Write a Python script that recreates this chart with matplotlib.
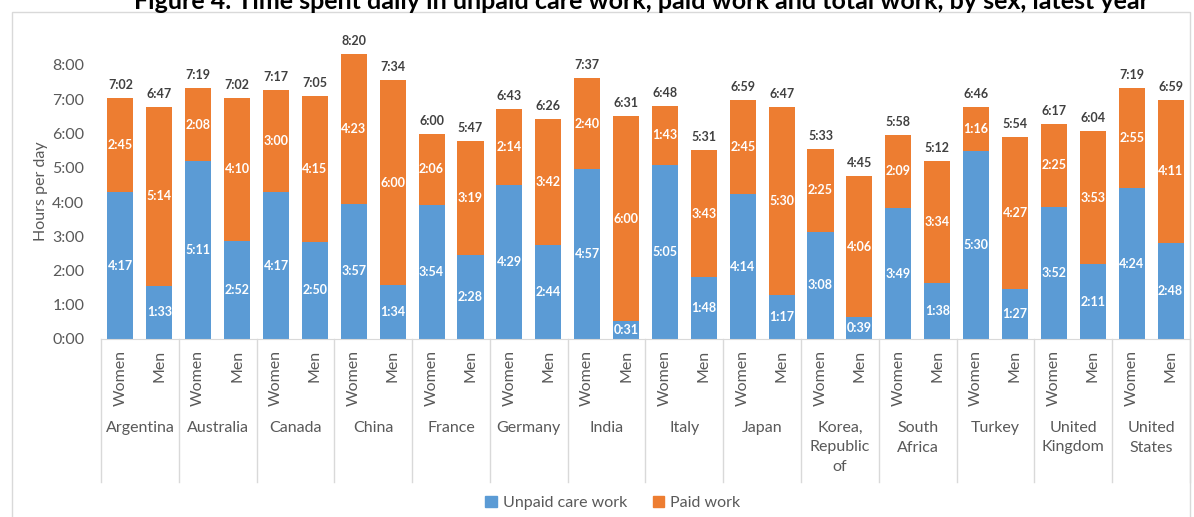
import matplotlib
matplotlib.use('Agg')
import matplotlib.pyplot as plt
from matplotlib.patches import Rectangle, Patch
from matplotlib.lines import Line2D
import numpy as np

# Datos (horas:minutos)
countries = ["Argentina", "Australia", "Canada", "China", "France", "Germany", "India",
             "Italy", "Japan", "Korea,\nRepublic\nof", "South\nAfrica", "Turkey",
             "United\nKingdom", "United\nStates"]
sexes = ["Women", "Men"]

unpaid_women = ["4:17", "5:11", "4:17", "3:57", "3:54", "4:29", "4:57",
                "5:05", "4:14", "3:08", "3:49", "5:30", "3:52", "4:24"]
paid_women = ["2:45", "2:08", "3:00", "4:23", "2:06", "2:14", "2:40",
              "1:43", "2:45", "2:25", "2:09", "1:16", "2:25", "2:55"]
unpaid_men = ["1:33", "2:52", "2:50", "1:34", "2:28", "2:44", "0:31",
              "1:48", "1:17", "0:39", "1:38", "1:27", "2:11", "2:48"]
paid_men = ["5:14", "4:10", "4:15", "6:00", "3:19", "3:42", "6:00",
            "3:43", "5:30", "4:06", "3:34", "4:27", "3:53", "4:11"]

BLUE = "#5B9BD5"
ORANGE = "#ED7D31"
GRAY = "#595959"
FONT = "Lato"


def to_min(s):
    h, m = s.split(":")
    return int(h) * 60 + int(m)


def fmt(mins):
    return f"{mins // 60}:{mins % 60:02d}"


# Intercalar mujeres y hombres por pais
unpaid = []
paid = []
for i in range(len(countries)):
    unpaid += [to_min(unpaid_women[i]), to_min(unpaid_men[i])]
    paid += [to_min(paid_women[i]), to_min(paid_men[i])]
unpaid = np.array(unpaid)
paid = np.array(paid)
total = unpaid + paid

W, H = 1194, 517
fig = plt.figure(figsize=(W / 100, H / 100), dpi=100)

# Marco gris del grafico
fig.patches.append(Rectangle((12 / W, -0.1), 1178 / W, 1.1 - 12 / H, transform=fig.transFigure,
                             fill=False, edgecolor="#D9D9D9", linewidth=1))

# Titulo (recortado arriba como en la imagen original)
fig.text(0.537, 1 - 9 / H,
         "Figure 4. Time spent daily in unpaid care work, paid work and total work, by sex, latest year",
         ha="center", va="baseline", fontsize=18, fontweight="bold", family=FONT, color="black")

y0 = 339
ppx = 34.25
ymax = 8.65
ax = fig.add_axes([101 / W, 1 - y0 / H, (1190 - 101) / W, ymax * ppx / H])

x = np.arange(len(unpaid))
ax.bar(x, unpaid / 60, width=0.67, color=BLUE, label="Unpaid care work")
ax.bar(x, paid / 60, width=0.67, bottom=unpaid / 60, color=ORANGE, label="Paid work")

for i in range(len(x)):
    ax.text(x[i], unpaid[i] / 120, fmt(unpaid[i]), ha="center", va="center", color="white",
            fontsize=9, fontweight="bold", family=FONT)
    ax.text(x[i], (unpaid[i] + paid[i] / 2) / 60, fmt(paid[i]), ha="center", va="center",
            color="white", fontsize=9, fontweight="bold", family=FONT)
    ax.annotate(fmt(total[i]), (x[i], total[i] / 60), xytext=(0, 5), textcoords="offset points",
                ha="center", va="bottom", color="#404040", fontsize=9, fontweight="bold", family=FONT)

ax.set_xlim(-0.5, len(x) - 0.5)
ax.set_ylim(0, ymax)
ax.set_yticks(range(0, 9))
ax.set_yticklabels([f"{h}:00" for h in range(0, 9)], fontsize=11.5, color=GRAY, family=FONT)
ax.tick_params(axis="y", length=0, pad=12)
ax.set_xticks([])
for s in ["top", "right", "left"]:
    ax.spines[s].set_visible(False)
ax.spines["bottom"].set_color("#D9D9D9")
ax.set_ylabel("Hours per day", fontsize=11.5, color=GRAY, family=FONT, labelpad=3)

# Etiquetas de categorias (sexo y pais) debajo del eje
trans = ax.get_xaxis_transform()
for i in range(len(x)):
    ax.text(x[i], -11 / (ymax * ppx), sexes[i % 2], rotation=90, ha="center", va="top",
            fontsize=11.5, color=GRAY, family=FONT, transform=trans)
for g, name in enumerate(countries):
    ax.text(2 * g + 0.5, -82 / (ymax * ppx), name, ha="center", va="top", fontsize=11.5,
            color=GRAY, family=FONT, transform=trans, linespacing=1.5)
for g in range(len(countries) + 1):
    ax.add_line(Line2D([2 * g - 0.5, 2 * g - 0.5], [0, -143 / (ymax * ppx)], transform=trans,
                       color="#D9D9D9", linewidth=1, clip_on=False))

handles = [Patch(color=BLUE, label="Unpaid care work"), Patch(color=ORANGE, label="Paid work")]
leg = fig.legend(handles=handles, loc="center", bbox_to_anchor=(613 / W, 1 - 503 / H), ncol=2,
                 frameon=False, handlelength=0.7, handleheight=0.7, handletextpad=0.4,
                 columnspacing=1.6, prop={"family": FONT, "size": 11.5})
for t in leg.get_texts():
    t.set_color(GRAY)

fig.savefig("out.png", dpi=100)
